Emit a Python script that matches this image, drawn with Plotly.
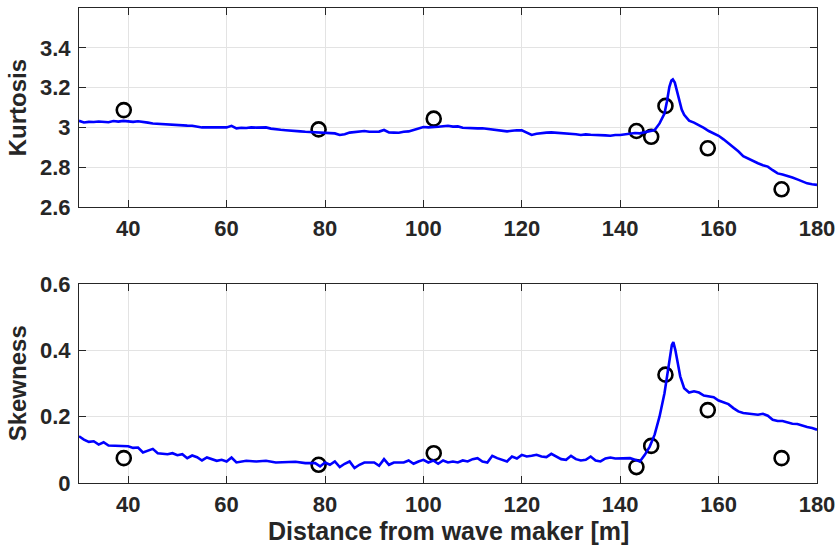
import plotly.graph_objects as go

# Measurement stations (circles)
gauge_x = [39.1, 78.7, 102.1, 143.3, 146.3, 149.2, 157.8, 172.8]
gauge_kurt = [3.087, 2.990, 3.044, 2.982, 2.953, 3.108, 2.895, 2.689]
gauge_skew = [0.075, 0.055, 0.090, 0.048, 0.112, 0.327, 0.220, 0.075]

# Simulated kurtosis along the flume
kurt_x = [30, 31, 32, 33, 34, 35, 36, 37, 38, 39, 40, 41, 42, 43, 44, 45, 46, 47, 48, 49,
          50, 51, 52, 53, 54, 55, 56, 57, 58, 59, 60, 61, 62, 63, 64, 65, 66, 67, 68, 69,
          70, 71, 72, 73, 74, 75, 76, 77, 78, 79, 80, 81, 82, 83, 84, 85, 86, 87, 88, 89,
          90, 91, 92, 93, 94, 95, 96, 97, 98, 99, 100, 101, 102, 103, 104, 105, 106, 107, 108, 109,
          110, 111, 112, 113, 114, 115, 116, 117, 118, 119, 120, 121, 122, 123, 124, 125, 126, 127, 128, 129,
          130, 131, 132, 133, 134, 135, 136, 137, 138, 139, 140, 141, 142, 143, 144, 145, 146, 147, 148, 149,
          149.5, 150, 150.4, 150.7, 151.1, 151.5, 152, 152.5, 153, 154, 155, 156, 157, 158, 159, 160,
          161, 162, 163, 164, 165, 166, 167, 168, 169, 170, 171, 172, 173, 174, 175, 176, 177, 178, 179, 180]
kurt_y = [3.033, 3.025, 3.028, 3.027, 3.030, 3.029, 3.026, 3.032, 3.029, 3.033, 3.032, 3.028, 3.031, 3.026, 3.024, 3.020, 3.018, 3.016, 3.017, 3.013,
          3.012, 3.010, 3.009, 3.008, 3.004, 3.000, 3.000, 3.001, 2.999, 3.000, 3.000, 3.008, 2.995, 2.998, 2.997, 3.000, 2.999, 3.001, 3.000, 2.994,
          2.990, 2.988, 2.986, 2.985, 2.982, 2.980, 2.978, 2.977, 2.976, 2.975, 2.975, 2.974, 2.970, 2.962, 2.966, 2.974, 2.976, 2.980, 2.982, 2.978,
          2.977, 2.979, 2.987, 2.975, 2.974, 2.973, 2.978, 2.980, 2.987, 2.995, 3.002, 3.000, 3.000, 3.003, 3.006, 3.008, 3.004, 3.005, 2.998, 2.996,
          2.997, 2.995, 2.996, 2.993, 2.990, 2.987, 2.984, 2.980, 2.983, 2.986, 2.985, 2.975, 2.962, 2.968, 2.972, 2.974, 2.975, 2.973, 2.974, 2.972,
          2.970, 2.966, 2.962, 2.965, 2.963, 2.962, 2.964, 2.960, 2.958, 2.962, 2.962, 2.966, 2.970, 2.972, 2.970, 2.975, 2.980, 2.987, 3.020, 3.070,
          3.130, 3.204, 3.235, 3.241, 3.225, 3.188, 3.130, 3.090, 3.063, 3.034, 3.024, 3.012, 2.998, 2.982, 2.970, 2.958,
          2.940, 2.920, 2.903, 2.880, 2.856, 2.843, 2.831, 2.820, 2.810, 2.803, 2.785, 2.769, 2.763, 2.757, 2.748, 2.739, 2.728, 2.719, 2.714, 2.711]

# Simulated skewness along the flume
skew_x = [30, 31, 32, 33, 34, 35, 36, 38, 40, 41, 42, 43, 45, 46, 48, 49, 50, 51, 52, 53,
          54, 55, 56, 58, 59, 60, 61, 62, 64, 66, 68, 70, 72, 74, 76, 78, 79, 80, 81, 82,
          83, 84, 85, 86, 87, 88, 90, 91, 92, 93, 94, 96, 97, 98, 99, 100, 101, 102, 103, 104,
          105, 106, 107, 108, 109, 110, 111, 112, 113, 114, 115, 116, 117, 118, 119, 120, 121, 122, 123, 124,
          125, 126, 127, 128, 129, 130, 131, 132, 133, 134, 135, 136, 137, 138, 139, 140, 141, 142, 143, 144,
          145, 146, 147, 148, 149, 149.5, 150, 150.5, 150.8, 151.2, 151.7, 152.2, 153, 154, 155, 156, 157, 158, 159, 160,
          161, 162, 163, 164, 165, 166, 167, 168, 169, 170, 171, 172, 173, 174, 175, 176, 177, 178, 179, 180]
skew_y = [0.141, 0.131, 0.124, 0.126, 0.116, 0.123, 0.113, 0.111, 0.111, 0.106, 0.107, 0.092, 0.103, 0.090, 0.087, 0.090, 0.084, 0.087, 0.075, 0.083,
          0.078, 0.068, 0.077, 0.067, 0.070, 0.065, 0.077, 0.062, 0.067, 0.065, 0.067, 0.062, 0.062, 0.064, 0.060, 0.060, 0.050, 0.062, 0.055, 0.065,
          0.048, 0.058, 0.065, 0.045, 0.055, 0.062, 0.062, 0.052, 0.072, 0.055, 0.062, 0.062, 0.068, 0.058, 0.065, 0.070, 0.062, 0.068, 0.058, 0.068,
          0.062, 0.065, 0.062, 0.068, 0.065, 0.072, 0.075, 0.065, 0.062, 0.082, 0.075, 0.070, 0.065, 0.080, 0.074, 0.085, 0.080, 0.082, 0.085, 0.080,
          0.078, 0.088, 0.080, 0.072, 0.070, 0.082, 0.072, 0.068, 0.070, 0.080, 0.068, 0.065, 0.074, 0.077, 0.074, 0.075, 0.074, 0.075, 0.070, 0.065,
          0.085, 0.110, 0.146, 0.201, 0.271, 0.322, 0.372, 0.417, 0.425, 0.402, 0.362, 0.322, 0.286, 0.273, 0.277, 0.273, 0.264, 0.261, 0.259, 0.249,
          0.244, 0.238, 0.226, 0.216, 0.211, 0.209, 0.209, 0.206, 0.209, 0.203, 0.191, 0.187, 0.187, 0.183, 0.179, 0.178, 0.173, 0.169, 0.166, 0.161]

x_ticks = [40, 60, 80, 100, 120, 140, 160, 180]
kurt_ticks = [2.6, 2.8, 3.0, 3.2, 3.4]
kurt_ticktext = ["2.6", "2.8", "3", "3.2", "3.4"]
skew_ticks = [0, 0.2, 0.4, 0.6]
skew_ticktext = ["0", "0.2", "0.4", "0.6"]

INK = "#262626"
FONT = "Liberation Sans"
TICK_FONT = dict(family=FONT, size=22, color=INK, weight="bold")
LABEL_FONT = dict(family=FONT, size=24, color=INK, weight="bold")

fig = go.Figure()

fig.add_trace(go.Scatter(x=gauge_x, y=gauge_kurt, mode="markers", xaxis="x", yaxis="y",
                         marker=dict(symbol="circle-open", size=14, color="black",
                                     line=dict(width=2.6, color="black")),
                         showlegend=False))
fig.add_trace(go.Scatter(x=kurt_x, y=kurt_y, mode="lines", xaxis="x", yaxis="y",
                         line=dict(color="#0000ff", width=2.6), showlegend=False))
fig.add_trace(go.Scatter(x=gauge_x, y=gauge_skew, mode="markers", xaxis="x2", yaxis="y2",
                         marker=dict(symbol="circle-open", size=14, color="black",
                                     line=dict(width=2.6, color="black")),
                         showlegend=False))
fig.add_trace(go.Scatter(x=skew_x, y=skew_y, mode="lines", xaxis="x2", yaxis="y2",
                         line=dict(color="#0000ff", width=2.6), showlegend=False))

common_x = dict(range=[30, 180], tickvals=x_ticks, showgrid=True, gridcolor="#e3e3e3",
                gridwidth=1, zeroline=False, showline=True, linecolor=INK, linewidth=1,
                mirror="allticks", ticks="inside", ticklen=7, tickcolor=INK,
                tickfont=TICK_FONT, ticklabelstandoff=2, automargin=False)
common_y = dict(showgrid=True, gridcolor="#e3e3e3", gridwidth=1, zeroline=False,
                showline=True, linecolor=INK, linewidth=1, mirror="allticks",
                ticks="inside", ticklen=7, tickcolor=INK, tickfont=TICK_FONT,
                ticklabelstandoff=3, automargin=False)

fig.update_layout(
    width=840, height=549,
    margin=dict(l=79, r=23, t=8, b=66, autoexpand=False),
    paper_bgcolor="white", plot_bgcolor="white",
    xaxis=dict(domain=[0, 1], anchor="y", **common_x),
    yaxis=dict(domain=[0.581, 1], anchor="x", range=[2.6, 3.6], tickvals=kurt_ticks,
               ticktext=kurt_ticktext, **common_y),
    xaxis2=dict(domain=[0, 1], anchor="y2", **common_x),
    yaxis2=dict(domain=[0, 0.4185], anchor="x2", range=[0, 0.6], tickvals=skew_ticks,
                ticktext=skew_ticktext, **common_y),
    annotations=[
        dict(text="Kurtosis", textangle=-90, xref="paper", yref="paper",
             x=-0.083, y=0.7905, xanchor="center", yanchor="middle", showarrow=False,
             font=LABEL_FONT),
        dict(text="Skewness", textangle=-90, xref="paper", yref="paper",
             x=-0.083, y=0.2093, xanchor="center", yanchor="middle", showarrow=False,
             font=LABEL_FONT),
        dict(text="Distance from wave maker [m]", xref="paper", yref="paper",
             x=0.5, y=-0.102, xanchor="center", yanchor="middle", showarrow=False,
             font=dict(family=FONT, size=25, color=INK, weight="bold")),
    ],
)

fig.write_html("out.html")
